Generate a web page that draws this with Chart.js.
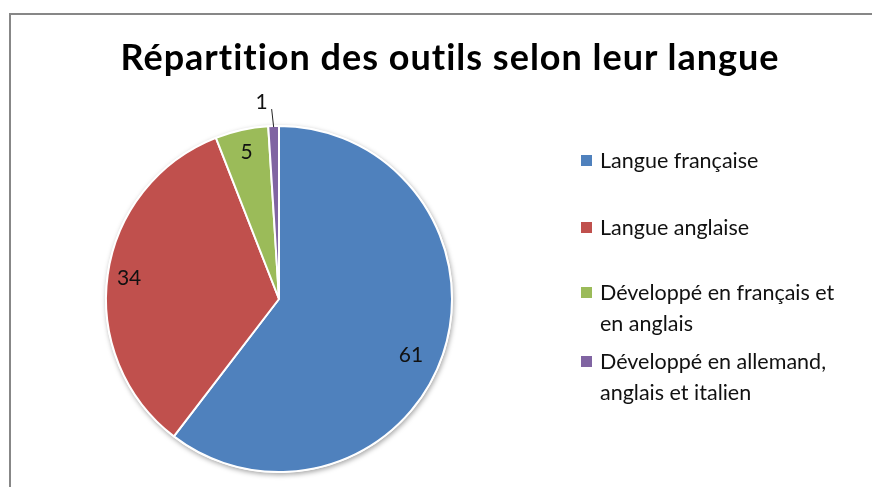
<!DOCTYPE html>
<html>
<head>
<meta charset="utf-8">
<script src="https://cdn.jsdelivr.net/npm/chart.js@4.4.1/dist/chart.umd.min.js"></script>
<style>
  html, body { margin: 0; padding: 0; background: #fff; overflow: hidden; }
  #zone { position: relative; width: 872px; height: 487px; }
  #cadre { position: absolute; left: 9px; top: 13px; width: 900px; height: 600px; border: 2px solid #878787; }
  #graphique { position: absolute; left: 0; top: 0; }
  #titre { position: absolute; left: 0; width: 900px; top: 34px; text-align: center; line-height: 1.2;
           font: bold 36px Lato, sans-serif; letter-spacing: 1px; color: #000; margin: 0; white-space: nowrap; }
  #legende { position: absolute; left: 581px; top: 0; font: 21.5px Lato, sans-serif; color: #111; }
  .item { position: absolute; left: 0; width: 255px; line-height: 31px; padding-left: 19px; }
  .carre { position: absolute; left: 0; top: 10px; width: 11px; height: 11px; }
</style>
</head>
<body>
<div id="zone">
  <div id="cadre"></div>
  <canvas id="graphique" width="872" height="487"></canvas>
  <h1 id="titre">Répartition des outils selon leur langue</h1>
  <div id="legende"></div>
</div>
<script>
const categories = [
    "Langue française",
    "Langue anglaise",
    "Développé en français et en anglais",
    "Développé en allemand, anglais et italien"
];
const valeurs = [61, 34, 5, 1];
const couleurs = ["#4F81BD", "#C0504D", "#9BBB59", "#8064A2"];

// position des étiquettes : fraction du rayon et petit décalage d'angle (degrés)
// null = étiquette dehors avec un trait
const rayonEtiquette = [0.83, 0.875, 0.87, null];
const decalageAngle = [4.5, 0, 0, 0];
const hautLegende = [145, 212, 277, 346];

// ombre légère sous le camembert
const ombrePlugin = {
    id: "ombre",
    beforeDatasetsDraw(chart) {
        const arc = chart.getDatasetMeta(0).data[0];
        if (!arc) return;
        const ctx = chart.ctx;
        ctx.save();
        ctx.shadowColor = "rgba(0,0,0,0.35)";
        ctx.shadowBlur = 5;
        ctx.shadowOffsetX = 1;
        ctx.shadowOffsetY = 2;
        ctx.fillStyle = "#fff";
        ctx.beginPath();
        ctx.arc(arc.x, arc.y, arc.outerRadius + 1, 0, Math.PI * 2);
        ctx.fill();
        ctx.restore();
    }
};

const etiquettesPlugin = {
    id: "etiquettes",
    afterDatasetsDraw(chart) {
        const ctx = chart.ctx;
        const meta = chart.getDatasetMeta(0);
        ctx.save();
        ctx.font = "21px Lato, sans-serif";
        ctx.fillStyle = "#111";
        ctx.textAlign = "center";
        ctx.textBaseline = "middle";
        meta.data.forEach((arc, i) => {
            const p = arc.getProps(["x", "y", "startAngle", "endAngle", "outerRadius"], true);
            const milieu = (p.startAngle + p.endAngle) / 2 + decalageAngle[i] * Math.PI / 180;
            const f = rayonEtiquette[i];
            if (f) {
                const r = p.outerRadius * f;
                ctx.fillText(valeurs[i], p.x + Math.cos(milieu) * r, p.y + Math.sin(milieu) * r);
            } else {
                // petite part: étiquette dehors avec trait
                const x0 = p.x + Math.cos(milieu) * (p.outerRadius - 1);
                const y0 = p.y + Math.sin(milieu) * (p.outerRadius - 1);
                ctx.strokeStyle = "#222";
                ctx.lineWidth = 1;
                ctx.beginPath();
                ctx.moveTo(x0, y0);
                ctx.lineTo(x0 - 2, y0 - 18);
                ctx.stroke();
                ctx.fillText(valeurs[i], x0 - 12, y0 - 25);
            }
        });
        ctx.restore();
    }
};

const ctx = document.getElementById("graphique");
const graphiqueCamembert = new Chart(ctx, {
    type: "pie",
    data: {
        labels: categories,
        datasets: [{
            data: valeurs,
            backgroundColor: couleurs,
            borderColor: "#fff",
            borderWidth: 2
        }]
    },
    options: {
        responsive: false,
        animation: false,
        layout: { padding: { left: 105, right: 419, top: 125, bottom: 14 } },
        plugins: {
            legend: { display: false },
            title: { display: false },
            tooltip: { enabled: false }
        }
    },
    plugins: [ombrePlugin, etiquettesPlugin]
});

// légende en HTML
const legende = document.getElementById("legende");
categories.forEach((nom, i) => {
    const item = document.createElement("div");
    item.className = "item";
    item.style.top = hautLegende[i] + "px";
    const carre = document.createElement("span");
    carre.className = "carre";
    carre.style.background = couleurs[i];
    item.appendChild(carre);
    item.appendChild(document.createTextNode(nom));
    legende.appendChild(item);
});
</script>
</body>
</html>
